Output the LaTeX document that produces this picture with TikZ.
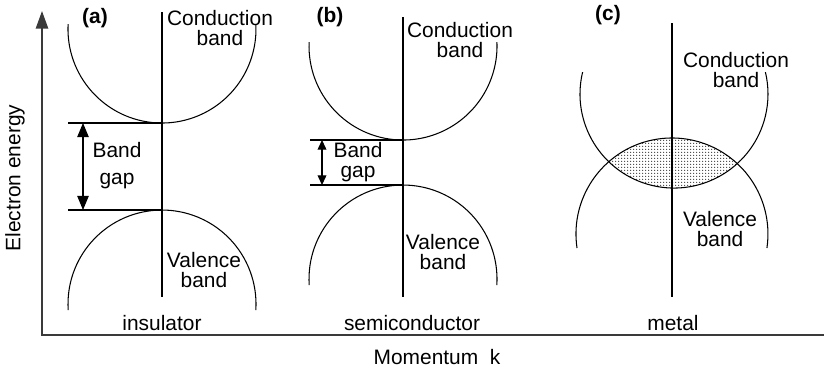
\documentclass[tikz,border=0pt]{standalone}
\usepackage{fontspec}
\setmainfont{Liberation Sans}
\usetikzlibrary{arrows.meta,patterns}
\definecolor{axisgray}{HTML}{3A3A3A}
\pgfdeclarepatternformonly{finedots}{\pgfpointorigin}{\pgfpoint{1.6pt}{1.6pt}}{\pgfpoint{1.6pt}{1.6pt}}{\pgfpathcircle{\pgfpoint{0.4pt}{0.4pt}}{0.38pt}\pgfusepath{fill}}
\tikzset{
  lbl/.style={font=\fontsize{11.9}{11.6}\selectfont,align=center,inner sep=0pt},
  tag/.style={lbl,font=\fontsize{11.9}{11.6}\selectfont\bfseries},
  curve/.style={line width=0.6pt},
  axisline/.style={line width=0.9pt,draw=axisgray},
  gaparrow/.style={line width=0.6pt,{Triangle[length=8pt,width=6.5pt]}-{Triangle[length=8pt,width=6.5pt]}},
  smallgap/.style={line width=0.6pt,{Triangle[length=5.5pt,width=5pt]}-{Triangle[length=5.5pt,width=5pt]}}
}

\begin{document}
\begin{tikzpicture}[x=0.2mm,y=0.2mm]
\useasboundingbox (0,0) rectangle (824,368);
% axes
\coordinate (etop) at (42,357);
\coordinate (kend) at (824,33);
\draw[axisline,{Triangle[length=10pt,width=7pt]}-] (etop) |- (kend);
\node[lbl,rotate=90] (energy) at (15,190) {Electron energy};
\node[lbl] (momentum) at (437,11) {Momentum~~k};

% (a) insulator
\draw[curve] (162,356) -- (162,71);
\draw[curve] (68.1,343.9) arc (177:363:94);
\draw[curve] (68.2,57.9) arc (183.7:-3.7:94);
\draw[curve] (68,245) -- (162,245);
\draw[curve] (68,158) -- (162,158);
\coordinate (gapatop) at (83,245);
\coordinate (gapabot) at (83,158);
\draw[gaparrow] (gapatop) -- (gapabot);
\node[lbl] (gapa) at (117,202) {Band\\[3.8pt]gap};
\node[tag] (taga) at (95,350) {(a)};
\node[lbl] (conda) at (220,340) {Conduction\\band};
\node[lbl] (vala) at (204,98) {Valence\\band};
\node[lbl] (insul) at (162,45) {insulator};

% (b) semiconductor
\draw[curve] (403,351) -- (403,71);
\draw[curve] (309.1,325.9) arc (177.6:362.4:94);
\draw[curve] (309.2,82.9) arc (183.7:-3.7:94);
\draw[curve] (310,228) -- (403,228);
\draw[curve] (310,183) -- (403,183);
\coordinate (gapbtop) at (322,228);
\coordinate (gapbbot) at (322,183);
\draw[smallgap] (gapbtop) -- (gapbbot);
\node[lbl] (gapb) at (358,206) {Band\\gap};
\node[tag] (tagb) at (330,351) {(b)};
\node[lbl] (condb) at (460,328) {Conduction\\band};
\node[lbl] (valb) at (443,116) {Valence\\band};
\node[lbl] (semi) at (412,45) {semiconductor};

% (c) metal
\begin{scope}
\clip (674,274) circle (94);
\fill[pattern=finedots,pattern color=black!75] (672,134) circle (96);
\end{scope}
\draw[curve] (672,345) -- (672,71);
\draw[curve] (582.6,295.9) arc (166.5:373.5:94);
\draw[curve] (577,120) arc (188.4:-8.4:96);
\node[tag] (tagc) at (608,353) {(c)};
\node[lbl] (condc) at (736,298) {Conduction\\band};
\node[lbl] (valc) at (720,139) {Valence\\band};
\node[lbl] (metal) at (673,45) {metal};
\end{tikzpicture}
\end{document}
